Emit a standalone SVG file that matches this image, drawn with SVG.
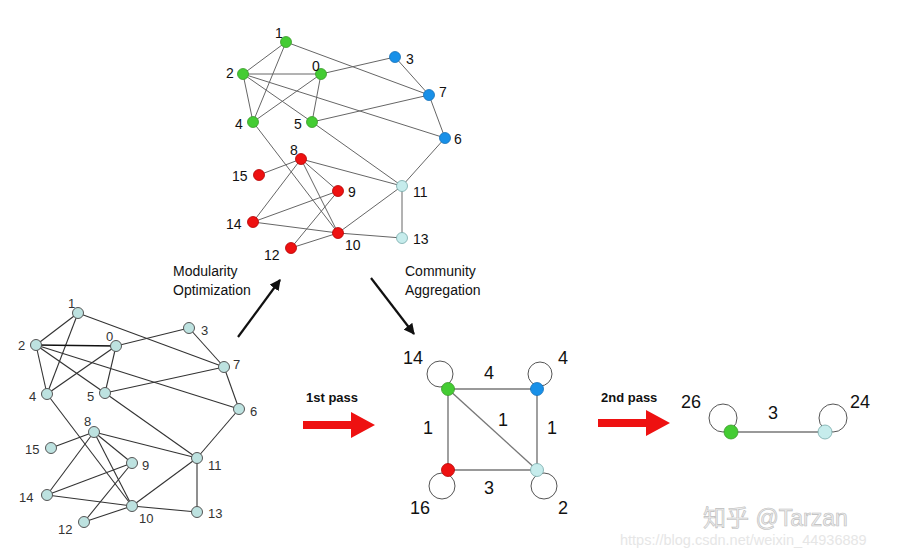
<svg xmlns="http://www.w3.org/2000/svg" width="902" height="557" viewBox="0 0 902 557">
<defs>
<marker id="ah" viewBox="0 0 10 10" refX="9" refY="5" markerWidth="5" markerHeight="5" orient="auto"><path d="M0,0 L10,5 L0,10 z" fill="#111"/></marker>
</defs>
<style>
text{font-family:"Liberation Sans",Arial,sans-serif}
.lt{font-size:14px;fill:#111}
.lb{font-size:13px;fill:#333}
.e1{stroke:#666;stroke-width:1;fill:none}
.e2{stroke:#333;stroke-width:1.1;fill:none}
.g{fill:#44cc33;stroke:#3a9a2a;stroke-width:0.8}
.b{fill:#1890e8;stroke:#1570b8;stroke-width:0.8}
.r{fill:#ee1111;stroke:#b50000;stroke-width:0.8}
.c{fill:#c6ecec;stroke:#7aa;stroke-width:0.8}
.cb{fill:#bde2e0;stroke:#555;stroke-width:1}
.ew{stroke:#777;stroke-width:1.4;fill:none}
.lp{stroke:#555;stroke-width:1;fill:none}
.w{font-size:18px;fill:#111}
.bold{font-size:13px;font-weight:bold;fill:#111}
.cap{font-size:14px;fill:#111}
</style>
<rect width="902" height="557" fill="#fff"/>

<!-- Top graph -->
<g id="top-edges" class="e1">
<line x1="286" y1="42" x2="243" y2="74"/>
<line x1="286" y1="42" x2="253" y2="122"/>
<line x1="286" y1="42" x2="429" y2="95"/>
<line x1="243" y1="74" x2="321" y2="74"/>
<line x1="243" y1="74" x2="253" y2="122"/>
<line x1="243" y1="74" x2="312" y2="122"/>
<line x1="243" y1="74" x2="445" y2="138"/>
<line x1="321" y1="74" x2="253" y2="122"/>
<line x1="321" y1="74" x2="312" y2="122"/>
<line x1="321" y1="74" x2="395" y2="57"/>
<line x1="395" y1="57" x2="429" y2="95"/>
<line x1="429" y1="95" x2="445" y2="138"/>
<line x1="429" y1="95" x2="312" y2="122"/>
<line x1="253" y1="122" x2="338" y2="233"/>
<line x1="312" y1="122" x2="402" y2="186"/>
<line x1="445" y1="138" x2="402" y2="186"/>
<line x1="301" y1="159" x2="259" y2="175"/>
<line x1="301" y1="159" x2="402" y2="186"/>
<line x1="301" y1="159" x2="338" y2="191"/>
<line x1="301" y1="159" x2="338" y2="233"/>
<line x1="301" y1="159" x2="253" y2="222"/>
<line x1="338" y1="191" x2="253" y2="222"/>
<line x1="338" y1="191" x2="291" y2="248"/>
<line x1="253" y1="222" x2="338" y2="233"/>
<line x1="338" y1="233" x2="291" y2="248"/>
<line x1="338" y1="233" x2="402" y2="186"/>
<line x1="338" y1="233" x2="402" y2="238"/>
<line x1="402" y1="186" x2="402" y2="238"/>
</g>
<g id="t1"><circle class="g" cx="286" cy="42" r="5.5"/><text class="lt" x="275" y="38">1</text></g>
<g id="t2"><circle class="g" cx="243" cy="74" r="5.5"/><text class="lt" x="226" y="78">2</text></g>
<g id="t0"><circle class="g" cx="321" cy="74" r="5.5"/><text class="lt" x="312" y="71">0</text></g>
<g id="t3"><circle class="b" cx="395" cy="57" r="5.5"/><text class="lt" x="406" y="64">3</text></g>
<g id="t7"><circle class="b" cx="429" cy="95" r="5.5"/><text class="lt" x="439" y="97">7</text></g>
<g id="t4"><circle class="g" cx="253" cy="122" r="5.5"/><text class="lt" x="235" y="129">4</text></g>
<g id="t5"><circle class="g" cx="312" cy="122" r="5.5"/><text class="lt" x="294" y="129">5</text></g>
<g id="t6"><circle class="b" cx="445" cy="138" r="5.5"/><text class="lt" x="454" y="144">6</text></g>
<g id="t8"><circle class="r" cx="301" cy="159" r="5.5"/><text class="lt" x="290" y="155">8</text></g>
<g id="t15"><circle class="r" cx="259" cy="175" r="5.5"/><text class="lt" x="232" y="181">15</text></g>
<g id="t9"><circle class="r" cx="338" cy="191" r="5.5"/><text class="lt" x="348" y="197">9</text></g>
<g id="t11"><circle class="c" cx="402" cy="186" r="5.5"/><text class="lt" x="413" y="197">11</text></g>
<g id="t14"><circle class="r" cx="253" cy="222" r="5.5"/><text class="lt" x="226" y="229">14</text></g>
<g id="t10"><circle class="r" cx="338" cy="233" r="5.5"/><text class="lt" x="345" y="250">10</text></g>
<g id="t13"><circle class="c" cx="402" cy="238" r="5.5"/><text class="lt" x="413" y="244">13</text></g>
<g id="t12"><circle class="r" cx="291" cy="248" r="5.5"/><text class="lt" x="264" y="260">12</text></g>

<!-- Bottom-left graph -->
<g id="bl-edges" class="e2">
<line x1="78" y1="313" x2="36" y2="345"/>
<line x1="78" y1="313" x2="47" y2="394"/>
<line x1="78" y1="313" x2="224" y2="367"/>
<line x1="36" y1="345" x2="116" y2="346" stroke="#111" stroke-width="1.5"/>
<line x1="36" y1="345" x2="47" y2="394"/>
<line x1="36" y1="345" x2="105" y2="393"/>
<line x1="36" y1="345" x2="239" y2="409"/>
<line x1="116" y1="346" x2="47" y2="394"/>
<line x1="116" y1="346" x2="105" y2="393"/>
<line x1="116" y1="346" x2="189" y2="328"/>
<line x1="189" y1="328" x2="224" y2="367"/>
<line x1="224" y1="367" x2="239" y2="409"/>
<line x1="224" y1="367" x2="105" y2="393"/>
<line x1="47" y1="394" x2="132" y2="506"/>
<line x1="105" y1="393" x2="197" y2="458"/>
<line x1="239" y1="409" x2="197" y2="458"/>
<line x1="94" y1="432" x2="51" y2="448"/>
<line x1="94" y1="432" x2="197" y2="458"/>
<line x1="94" y1="432" x2="132" y2="463"/>
<line x1="94" y1="432" x2="132" y2="506"/>
<line x1="94" y1="432" x2="47" y2="495"/>
<line x1="132" y1="463" x2="47" y2="495"/>
<line x1="132" y1="463" x2="84" y2="522"/>
<line x1="47" y1="495" x2="132" y2="506"/>
<line x1="132" y1="506" x2="84" y2="522"/>
<line x1="132" y1="506" x2="197" y2="458"/>
<line x1="132" y1="506" x2="197" y2="512"/>
<line x1="197" y1="458" x2="197" y2="512"/>
</g>
<g id="b1"><circle class="cb" cx="78" cy="313" r="5.5"/><text class="lb" x="68" y="308">1</text></g>
<g id="b2"><circle class="cb" cx="36" cy="345" r="5.5"/><text class="lb" x="18" y="350">2</text></g>
<g id="b0"><circle class="cb" cx="116" cy="346" r="5.5"/><text class="lb" x="106" y="341">0</text></g>
<g id="b3"><circle class="cb" cx="189" cy="328" r="5.5"/><text class="lb" x="201" y="335">3</text></g>
<g id="b7"><circle class="cb" cx="224" cy="367" r="5.5"/><text class="lb" x="233" y="369">7</text></g>
<g id="b4"><circle class="cb" cx="47" cy="394" r="5.5"/><text class="lb" x="29" y="401">4</text></g>
<g id="b5"><circle class="cb" cx="105" cy="393" r="5.5"/><text class="lb" x="87" y="401">5</text></g>
<g id="b6"><circle class="cb" cx="239" cy="409" r="5.5"/><text class="lb" x="250" y="416">6</text></g>
<g id="b8"><circle class="cb" cx="94" cy="432" r="5.5"/><text class="lb" x="84" y="426">8</text></g>
<g id="b15"><circle class="cb" cx="51" cy="448" r="5.5"/><text class="lb" x="25" y="454">15</text></g>
<g id="b9"><circle class="cb" cx="132" cy="463" r="5.5"/><text class="lb" x="142" y="470">9</text></g>
<g id="b11"><circle class="cb" cx="197" cy="458" r="5.5"/><text class="lb" x="208" y="470">11</text></g>
<g id="b14"><circle class="cb" cx="47" cy="495" r="5.5"/><text class="lb" x="19" y="502">14</text></g>
<g id="b10"><circle class="cb" cx="132" cy="506" r="5.5"/><text class="lb" x="139" y="523">10</text></g>
<g id="b13"><circle class="cb" cx="197" cy="512" r="5.5"/><text class="lb" x="208" y="518">13</text></g>
<g id="b12"><circle class="cb" cx="84" cy="522" r="5.5"/><text class="lb" x="58" y="534">12</text></g>

<!-- Captions and arrows -->
<g id="arrows">
<line x1="238" y1="337" x2="280" y2="280" stroke="#111" stroke-width="2.2" marker-end="url(#ah)"/>
<line x1="371" y1="278" x2="414" y2="334" stroke="#111" stroke-width="2.2" marker-end="url(#ah)"/>
<path d="M303,421 H351 V412 L375,425 L351,438 V429 H303 z" fill="#ee1111"/>
<path d="M598,419 H646 V410 L670,423 L646,436 V427 H598 z" fill="#ee1111"/>
</g>
<g id="captions">
<text class="cap" x="173" y="276">Modularity</text>
<text class="cap" x="173" y="295">Optimization</text>
<text class="cap" x="405" y="276">Community</text>
<text class="cap" x="405" y="295">Aggregation</text>
<text class="bold" x="306" y="402">1st pass</text>
<text class="bold" x="601" y="402">2nd pass</text>
</g>

<!-- Middle aggregated graph -->
<g id="mid-edges" class="ew">
<line x1="448" y1="389" x2="537" y2="389"/>
<line x1="448" y1="389" x2="448" y2="470"/>
<line x1="448" y1="389" x2="537" y2="470"/>
<line x1="537" y1="389" x2="537" y2="470"/>
<line x1="448" y1="470" x2="537" y2="470"/>
</g>
<g id="m-green"><circle class="lp" cx="440" cy="374" r="13"/><circle class="g" cx="448" cy="389" r="6.5"/><text class="w" x="403" y="364">14</text></g>
<g id="m-blue"><circle class="lp" cx="540" cy="374" r="12"/><circle class="b" cx="537" cy="389" r="6.5"/><text class="w" x="558" y="364">4</text></g>
<g id="m-red"><circle class="lp" cx="442" cy="486" r="13"/><circle class="r" cx="448" cy="470" r="6.5"/><text class="w" x="410" y="514">16</text></g>
<g id="m-cyan"><circle class="lp" cx="544" cy="486" r="13"/><circle class="c" cx="537" cy="470" r="6.5"/><text class="w" x="558" y="514">2</text></g>
<g id="mid-labels">
<text class="w" x="484" y="379">4</text>
<text class="w" x="423" y="434">1</text>
<text class="w" x="498" y="426">1</text>
<text class="w" x="547" y="434">1</text>
<text class="w" x="484" y="494">3</text>
</g>

<!-- Right graph -->
<g id="right-edges"><line class="ew" x1="731" y1="432" x2="825" y2="432"/></g>
<g id="r-green"><circle class="lp" cx="723" cy="418" r="14"/><circle class="g" cx="731" cy="432" r="7"/><text class="w" x="681" y="408">26</text></g>
<g id="r-cyan"><circle class="lp" cx="833" cy="418" r="14"/><circle class="c" cx="825" cy="432" r="7"/><text class="w" x="850" y="408">24</text></g>
<text class="w" x="768" y="419">3</text>

<!-- Watermark -->
<text x="703" y="526" font-size="23" fill="#ececec" stroke="#bdbdbd" stroke-width="0.6" style="font-family:'Liberation Sans','Noto Sans CJK SC',sans-serif">知乎 @Tarzan</text>
<text x="620" y="545" font-size="14.5" fill="#e6e6e6" style="font-family:'Liberation Sans',sans-serif">https://blog.csdn.net/weixin_44936889</text>
</svg>
